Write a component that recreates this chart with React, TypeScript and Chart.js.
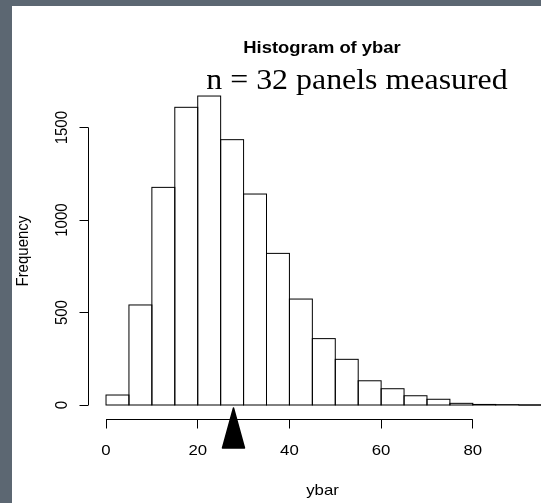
import { useEffect, useRef } from 'react';
import { Chart, registerables } from 'chart.js';
Chart.register(...registerables);

// ---- data ----
const binStarts = [0, 5, 10, 15, 20, 25, 30, 35, 40, 45, 50, 55, 60, 65, 70, 75, 80, 85, 90, 95];
const counts = [54, 541, 1177, 1610, 1671, 1435, 1141, 820, 573, 359, 247, 131, 88, 50, 31, 9, 3, 2, 0, 0];
const binWidth = 5;
const xTicks = [0, 20, 40, 60, 80];
const yTicks = [0, 500, 1000, 1500];
const meanYbar = 27.8;
const titleText = 'Histogram of ybar';
const subtitleText = 'n = 32 panels measured';
const xTitle = 'ybar';
const yTitle = 'Frequency';

const SANS = '"Liberation Sans", Arial, sans-serif';
const SERIF = '"Liberation Serif", "Times New Roman", serif';

function drawText(
  ctx: CanvasRenderingContext2D,
  text: string,
  x: number,
  y: number,
  font: string,
  sx: number,
  rotated = false,
) {
  ctx.save();
  ctx.translate(x, y);
  if (rotated) {
    ctx.rotate(-Math.PI / 2);
    ctx.scale(1, sx);
  } else {
    ctx.scale(sx, 1);
  }
  ctx.font = font;
  ctx.fillStyle = '#000';
  ctx.textAlign = 'center';
  ctx.textBaseline = 'alphabetic';
  ctx.fillText(text, 0, 0);
  ctx.restore();
}

const crisp = (v: number) => Math.floor(v) + 0.5;

const rPlugin = {
  id: 'rStyle',
  beforeDraw(chart: any) {
    const { ctx, width, height } = chart;
    ctx.save();
    ctx.fillStyle = 'rgb(92,103,114)';
    ctx.fillRect(0, 0, width, height);
    ctx.fillStyle = '#ffffff';
    ctx.fillRect(12, 6, width - 12, height - 6);
    ctx.restore();
  },
  afterDatasetsDraw(chart: any) {
    const { ctx, chartArea } = chart;
    const meta = chart.getDatasetMeta(0);
    ctx.save();
    ctx.beginPath();
    ctx.rect(chartArea.left, chartArea.top, chartArea.right - chartArea.left, chartArea.bottom - chartArea.top);
    ctx.clip();
    ctx.strokeStyle = '#000';
    ctx.lineWidth = 1;
    meta.data.forEach((el: any) => {
      const p = el.getProps(['x', 'y', 'base', 'width'], true);
      const left = p.x - p.width / 2;
      const top = Math.min(p.y, p.base);
      const h = Math.abs(p.base - p.y);
      ctx.strokeRect(left, top, p.width, h);
    });
    ctx.restore();
  },
  afterDraw(chart: any) {
    const { ctx, chartArea } = chart;
    const xs = chart.scales.x;
    const ys = chart.scales.y;
    ctx.save();
    ctx.strokeStyle = '#000';
    ctx.lineWidth = 1;

    // x axis (R style, from first to last tick)
    const axY = crisp(chartArea.bottom + 0.5);
    ctx.beginPath();
    ctx.moveTo(xs.getPixelForValue(xTicks[0]), axY);
    ctx.lineTo(xs.getPixelForValue(xTicks[xTicks.length - 1]), axY);
    xTicks.forEach((t) => {
      const px = crisp(xs.getPixelForValue(t));
      ctx.moveTo(px, axY);
      ctx.lineTo(px, axY + 9);
    });
    ctx.stroke();

    // y axis
    const axX = crisp(chartArea.left);
    ctx.beginPath();
    ctx.moveTo(axX, ys.getPixelForValue(yTicks[0]));
    ctx.lineTo(axX, ys.getPixelForValue(yTicks[yTicks.length - 1]));
    yTicks.forEach((t) => {
      const py = crisp(ys.getPixelForValue(t));
      ctx.moveTo(axX, py);
      ctx.lineTo(axX - 9, py);
    });
    ctx.stroke();
    ctx.restore();

    // tick labels
    xTicks.forEach((t) => {
      drawText(ctx, String(t), xs.getPixelForValue(t), axY + 35, `15px ${SANS}`, 1.12);
    });
    yTicks.forEach((t) => {
      drawText(ctx, String(t), axX - 22, ys.getPixelForValue(t), `15px ${SANS}`, 1.1, true);
    });

    // axis titles
    drawText(ctx, xTitle, 322.5, axY + 75, `15px ${SANS}`, 1.12);
    drawText(ctx, yTitle, 28, (chartArea.top + chartArea.bottom) / 2, `15px ${SANS}`, 1.1, true);

    // titles
    drawText(ctx, titleText, 322, 53, `bold 16px ${SANS}`, 1.15);
    drawText(ctx, subtitleText, 357, 89, `29px ${SERIF}`, 1.1);

    // mean marker triangle
    const mx = xs.getPixelForValue(meanYbar);
    const y0 = ys.getPixelForValue(0);
    ctx.save();
    ctx.fillStyle = '#000';
    ctx.strokeStyle = '#000';
    ctx.lineWidth = 1.5;
    ctx.lineJoin = 'round';
    ctx.beginPath();
    ctx.moveTo(mx, y0 + 3);
    ctx.lineTo(mx + 11, y0 + 43);
    ctx.lineTo(mx - 11, y0 + 43);
    ctx.closePath();
    ctx.fill();
    ctx.stroke();
    ctx.restore();
  },
};

export default function App() {
  const ref = useRef<HTMLCanvasElement | null>(null);
  useEffect(() => {
    if (!ref.current) return;
    const chart = new Chart(ref.current, {
      type: 'bar',
      data: {
        datasets: [
          {
            data: binStarts.map((s, i) => ({ x: s + binWidth / 2, y: counts[i] })),
            backgroundColor: '#ffffff',
            borderWidth: 0,
            barPercentage: 1,
            categoryPercentage: 1,
          } as any,
        ],
      },
      options: {
        animation: false,
        responsive: false,
        devicePixelRatio: 1,
        layout: { padding: { left: 88.6, right: 0, top: 83.7, bottom: 84.5 } },
        plugins: { legend: { display: false }, tooltip: { enabled: false }, title: { display: false } },
        scales: {
          x: { type: 'linear', min: -3.8, max: 94.87, offset: false, display: false, grid: { offset: false } },
          y: { type: 'linear', min: -73, max: 1737.7, display: false },
        },
      },
      plugins: [rPlugin],
    });
    return () => chart.destroy();
  }, []);
  return (
    <div style={{ position: 'fixed', left: 0, top: 0, width: 541, height: 503 }}>
      <canvas ref={ref} width={541} height={503} style={{ display: 'block', width: 541, height: 503 }} />
    </div>
  );
}
